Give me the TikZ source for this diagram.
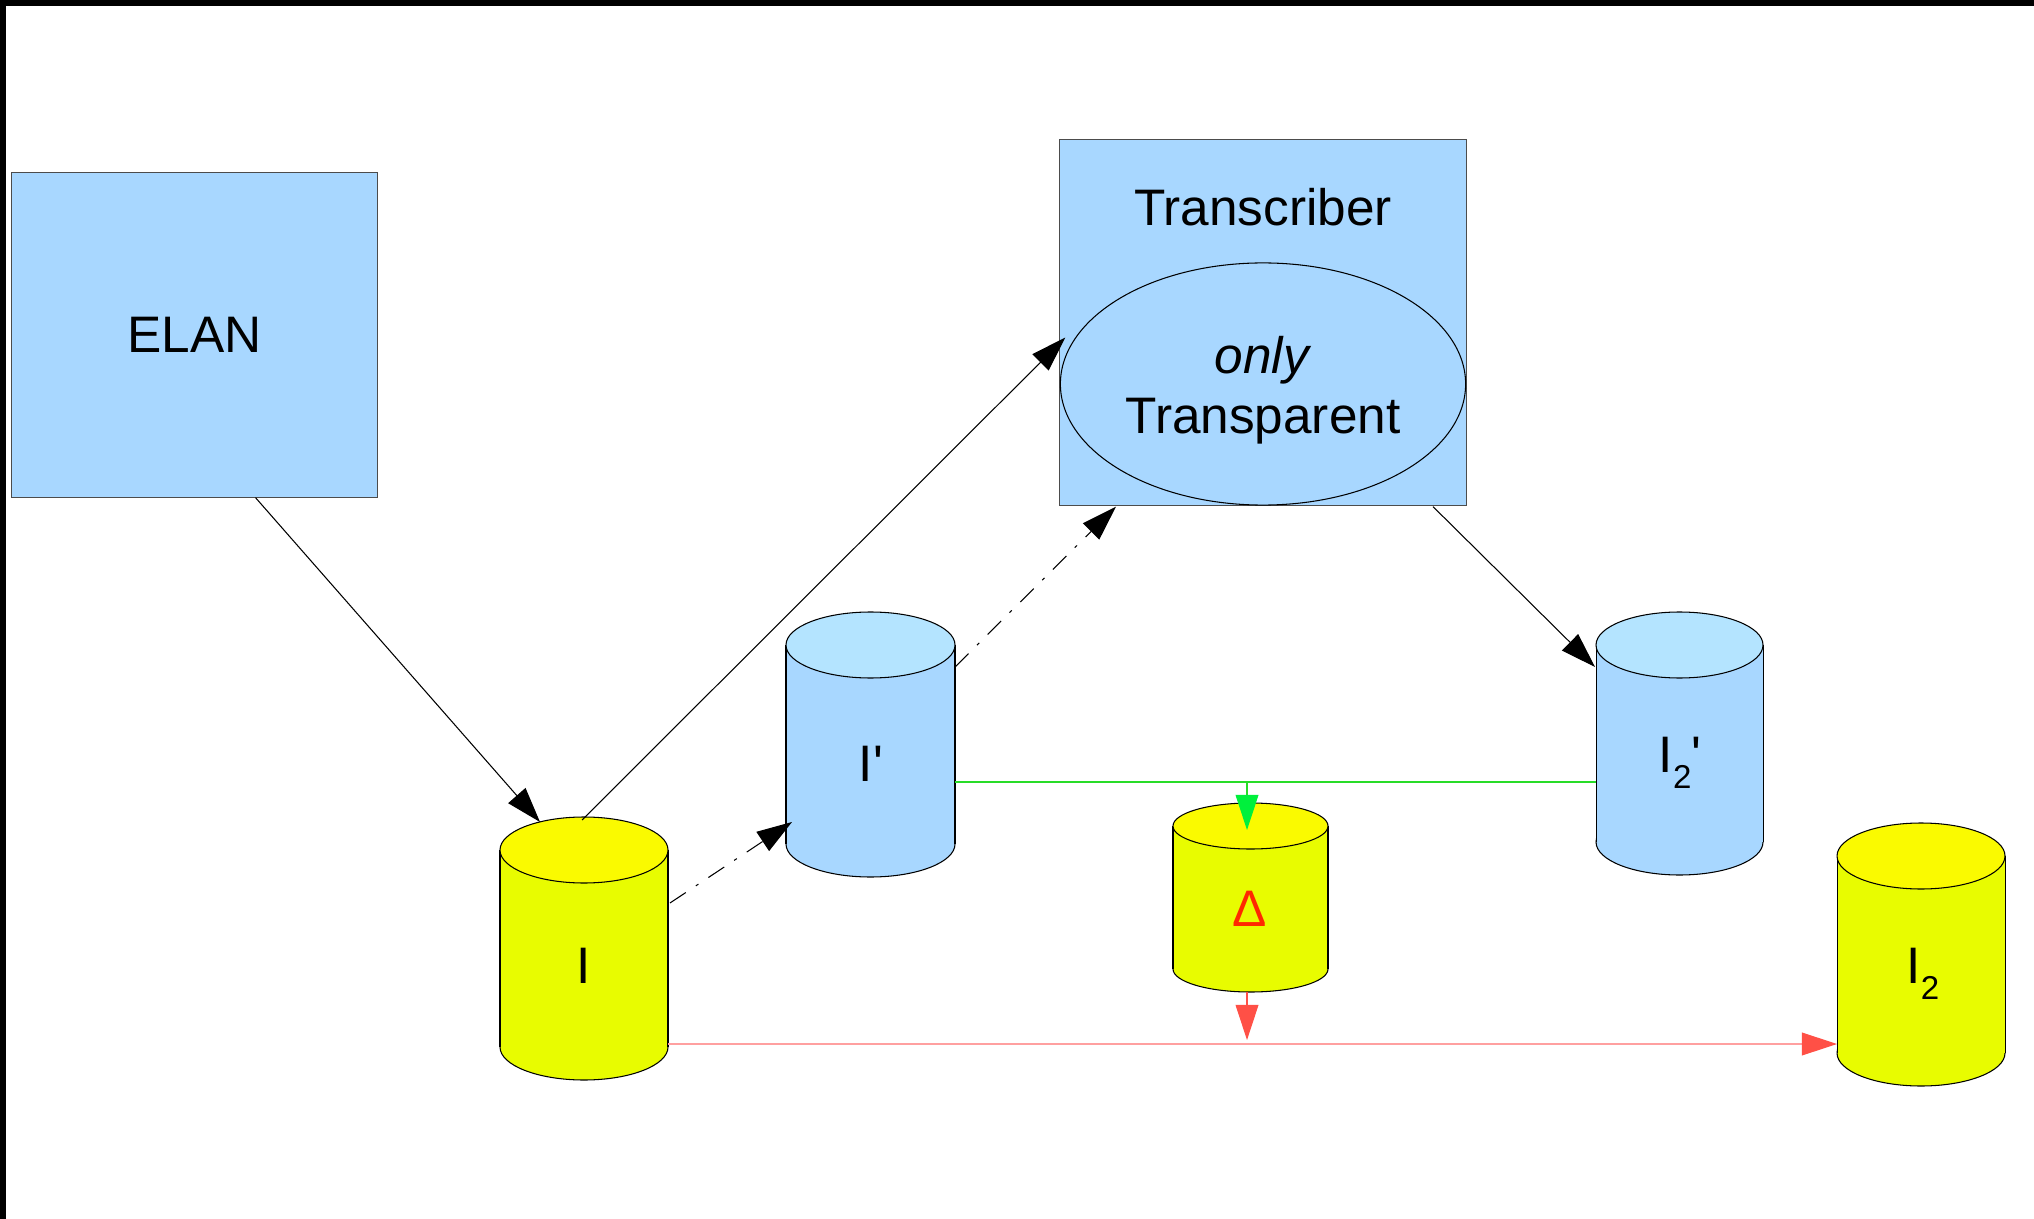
\documentclass[tikz,border=0pt]{standalone}
\usepackage{fontspec}
\setmainfont{Liberation Sans}
\usetikzlibrary{shapes.geometric,arrows.meta,calc}
\definecolor{boxblue}{RGB}{168,215,255}
\definecolor{cyltop}{RGB}{180,228,255}
\definecolor{ybody}{RGB}{232,252,0}
\definecolor{ytop}{RGB}{250,250,0}
\definecolor{gline}{RGB}{40,220,40}
\definecolor{ghead}{RGB}{0,240,60}
\definecolor{rline}{RGB}{255,160,160}
\definecolor{rhead}{RGB}{255,80,70}
\definecolor{deltared}{RGB}{255,40,0}
\tikzset{
  tool/.style={draw=black!70, fill=boxblue, font=\fontsize{14.6}{17}\selectfont},
  lbl/.style={font=\fontsize{14.6}{17}\selectfont, inner sep=0pt, anchor=base},
  tip/.style={-{Triangle[length=10pt,width=6.5pt]}},
  dashdot/.style={dash pattern=on 5.4pt off 3.4pt on 0.9pt off 3.4pt},
}
\newcommand{\subtwo}{\raisebox{-0.33em}{\fontsize{9.4}{10}\selectfont 2}}
\begin{document}
\begin{tikzpicture}[x=0.01cm,y=-0.01cm,line width=0.3pt]
\useasboundingbox (0,0) rectangle (2034,1219);
\fill (0,0) rectangle (2034,6);
\fill (0,0) rectangle (6,1219);

\node[tool, minimum width=3.65cm, minimum height=3.24cm] (elan) at (194.5,335) {ELAN};
\node[tool, minimum width=4.06cm, minimum height=3.65cm] (trans) at (1263,322.5) {};
\node[lbl, anchor=center] (transname) at (1263,207) {Transcriber};
\node[tool, draw=black, ellipse, inner sep=0pt, minimum width=4.05cm, minimum height=2.42cm] (transp) at (1263,384) {};
\node[lbl, anchor=center, align=center] (transtext) at (1263,390) {\textit{only}\\Transparent};

\filldraw[fill=ybody] (584,1047) ellipse [x radius=84, y radius=33];
\fill[ybody] (500,850) rectangle (668,1047);
\draw (500,850) -- (500,1047) (668,850) -- (668,1047);
\filldraw[fill=ytop] (584,850) ellipse [x radius=84, y radius=33];
\node[lbl] (I) at (584,983) {I};

\filldraw[fill=boxblue] (870.5,844) ellipse [x radius=84.5, y radius=33];
\fill[boxblue] (786,645) rectangle (955,844);
\draw (786,645) -- (786,844) (955,645) -- (955,844);
\filldraw[fill=cyltop] (870.5,645) ellipse [x radius=84.5, y radius=33];
\node[lbl] (Ip) at (871,781) {I\textquotesingle};

\filldraw[fill=ybody] (1250.5,969) ellipse [x radius=77.5, y radius=23];
\fill[ybody] (1173,826) rectangle (1328,969);
\draw (1173,826) -- (1173,969) (1328,826) -- (1328,969);
\filldraw[fill=ytop] (1250.5,826) ellipse [x radius=77.5, y radius=23];
\node[lbl, text=deltared] (D) at (1250,926) {Δ};

\filldraw[fill=boxblue] (1679.5,842) ellipse [x radius=83.5, y radius=33];
\fill[boxblue] (1596,645) rectangle (1763,842);
\draw (1596,645) -- (1596,842) (1763,645) -- (1763,842);
\filldraw[fill=cyltop] (1679.5,645) ellipse [x radius=83.5, y radius=33];
\node[lbl] (I2p) at (1680,772) {I\subtwo\textquotesingle};

\filldraw[fill=ybody] (1921,1053) ellipse [x radius=84, y radius=33];
\fill[ybody] (1837,856) rectangle (2005,1053);
\draw (1837,856) -- (1837,1053) (2005,856) -- (2005,1053);
\filldraw[fill=ytop] (1921,856) ellipse [x radius=84, y radius=33];
\node[lbl] (I2) at (1923,983) {I\subtwo};

\draw[tip] ($(elan.south)+(61,0)$) -- ($(I.base)+(-44,-161)$);
\draw[tip] ($(I.base)+(-2,-163)$) -- ($(trans.west)+(6,15)$);
\draw[tip, dashdot] ($(I.base)+(86,-80)$) -- ($(Ip.base)+(-79,41)$);
\draw[tip, dashdot] ($(Ip.base)+(84,-114)$) -- ($(trans.south)+(-147,1)$);
\draw[tip] ($(trans.south)+(170,1)$) -- ($(I2p.base)+(-85,-105)$);
\draw[gline] ($(Ip.base)+(84,1)$) -- ($(I2p.base)+(-84,10)$);
\draw[gline, -{Triangle[length=10pt,width=6.5pt,color=ghead]}] ($(D.base)+(-3,-144)$) -- ($(D.base)+(-3,-96)$);
\draw[rhead, -{Triangle[length=10pt,width=6.5pt]}] ($(D.base)+(-3,66)$) -- ($(D.base)+(-3,114)$);
\draw[rline, -{Triangle[length=10pt,width=6.5pt,color=rhead]}] ($(I.base)+(84,61)$) -- ($(I2.base)+(-86,61)$);
\end{tikzpicture}
\end{document}
